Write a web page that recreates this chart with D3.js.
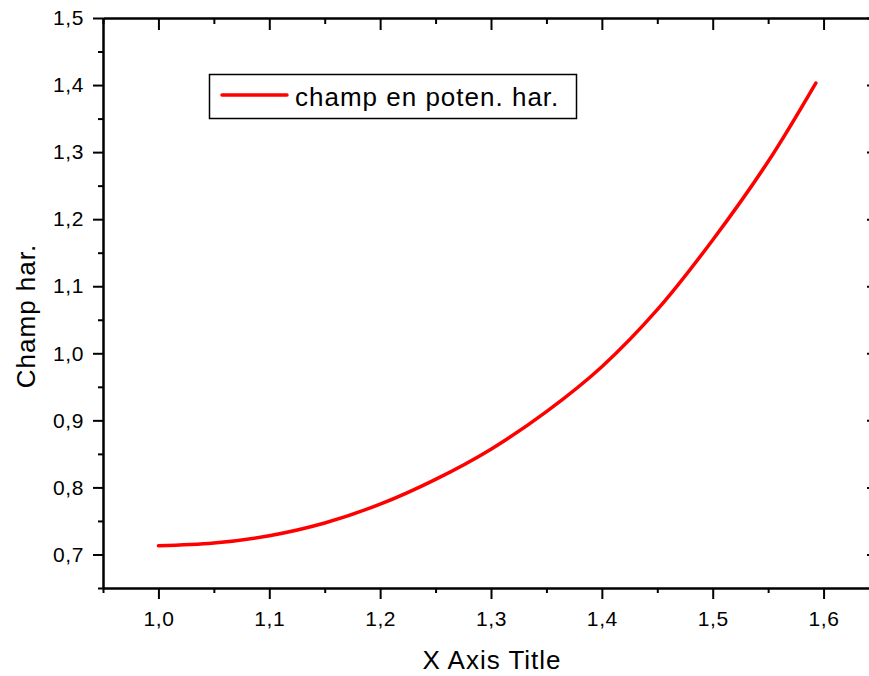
<!DOCTYPE html>
<html>
<head>
<meta charset="utf-8">
<script src="https://cdn.jsdelivr.net/npm/d3@7"></script>
<style>
  html, body { margin: 0; padding: 0; background: #fff; }
  svg { display: block; }
  text { font-family: "Liberation Sans", Arial, sans-serif; fill: #000; }
</style>
</head>
<body>
<svg id="chart" width="869" height="676"></svg>
<script>
// Series: harmonic potential field
const xValues = [1.00, 1.05, 1.10, 1.15, 1.20, 1.25, 1.30, 1.35, 1.40, 1.45, 1.50, 1.55, 1.593];
const yValues = [0.713, 0.717, 0.728, 0.747, 0.775, 0.812, 0.857, 0.913, 0.980, 1.065, 1.169, 1.286, 1.403];

// Axis ticks
const xMajorTicks = [1.0, 1.1, 1.2, 1.3, 1.4, 1.5, 1.6];
const xMinorTicks = [0.95, 1.05, 1.15, 1.25, 1.35, 1.45, 1.55, 1.65];
const yMajorTicks = [0.7, 0.8, 0.9, 1.0, 1.1, 1.2, 1.3, 1.4, 1.5];
const yMinorTicks = [0.65, 0.75, 0.85, 0.95, 1.05, 1.15, 1.25, 1.35, 1.45];

const seriesName = "champ en poten. har.";
const xTitle = "X Axis Title";
const yTitle = "Champ har.";

const svg = d3.select("#chart");
const plotLeft = 103, plotRight = 879, plotTop = 18, plotBottom = 588;

const x = d3.scaleLinear().domain([0.95, 1.65]).range([plotLeft, plotRight]);
const y = d3.scaleLinear().domain([0.65, 1.5]).range([plotBottom, plotTop]);

const fmt = v => d3.format(".1f")(v).replace(".", ",");

function styleAxis(g) {
  g.select(".domain").attr("stroke", "#000").attr("stroke-width", 2);
  g.selectAll(".tick line").attr("stroke", "#000").attr("stroke-width", 2);
  g.selectAll(".tick text")
    .attr("font-size", 21)
    .attr("letter-spacing", "0.6px")
    .attr("fill", "#000");
}

// Bottom axis: outward ticks with labels
svg.append("g").attr("transform", `translate(0,${plotBottom})`)
  .call(d3.axisBottom(x).tickValues(xMinorTicks).tickSize(5).tickFormat("").tickSizeOuter(0))
  .call(styleAxis);
svg.append("g").attr("transform", `translate(0,${plotBottom})`)
  .call(d3.axisBottom(x).tickValues(xMajorTicks).tickSize(11).tickPadding(12).tickFormat(fmt).tickSizeOuter(0))
  .call(styleAxis);

// Top axis: inward ticks, no labels
svg.append("g").attr("transform", `translate(0,${plotTop})`)
  .call(d3.axisBottom(x).tickValues(xMinorTicks).tickSize(6).tickFormat("").tickSizeOuter(0))
  .call(styleAxis);
svg.append("g").attr("transform", `translate(0,${plotTop})`)
  .call(d3.axisBottom(x).tickValues(xMajorTicks).tickSize(12).tickFormat("").tickSizeOuter(0))
  .call(styleAxis);

// Left axis: outward ticks with labels
svg.append("g").attr("transform", `translate(${plotLeft},0)`)
  .call(d3.axisLeft(y).tickValues(yMinorTicks).tickSize(5).tickFormat("").tickSizeOuter(0))
  .call(styleAxis);
svg.append("g").attr("transform", `translate(${plotLeft},0)`)
  .call(d3.axisLeft(y).tickValues(yMajorTicks).tickSize(10).tickPadding(9).tickFormat(fmt).tickSizeOuter(0))
  .call(styleAxis);

// Right axis: inward ticks, no labels
svg.append("g").attr("transform", `translate(${plotRight},0)`)
  .call(d3.axisLeft(y).tickValues(yMinorTicks).tickSize(6).tickFormat("").tickSizeOuter(0))
  .call(styleAxis);
svg.append("g").attr("transform", `translate(${plotRight},0)`)
  .call(d3.axisLeft(y).tickValues(yMajorTicks).tickSize(12).tickFormat("").tickSizeOuter(0))
  .call(styleAxis);

// Curve
const data = xValues.map((v, i) => ({ x: v, y: yValues[i] }));
const line = d3.line().x(d => x(d.x)).y(d => y(d.y)).curve(d3.curveCatmullRom.alpha(0.5));
svg.append("path")
  .datum(data)
  .attr("fill", "none")
  .attr("stroke", "#ff0000")
  .attr("stroke-width", 3.5)
  .attr("stroke-linecap", "round")
  .attr("d", line);

// Legend
const legend = svg.append("g");
legend.append("rect")
  .attr("x", 209.5).attr("y", 74.5).attr("width", 367).attr("height", 44)
  .attr("fill", "#fff").attr("stroke", "#000").attr("stroke-width", 1.5);
legend.append("line")
  .attr("x1", 222).attr("x2", 287).attr("y1", 95).attr("y2", 95)
  .attr("stroke", "#ff0000").attr("stroke-width", 3.5).attr("stroke-linecap", "round");
legend.append("text")
  .attr("x", 295).attr("y", 106)
  .attr("font-size", 26).attr("letter-spacing", "1px")
  .text(seriesName);

// Axis titles
svg.append("text")
  .attr("x", 492).attr("y", 669)
  .attr("text-anchor", "middle")
  .attr("font-size", 26).attr("letter-spacing", "1px")
  .text(xTitle);
svg.append("text")
  .attr("transform", "translate(35,316) rotate(-90)")
  .attr("text-anchor", "middle")
  .attr("font-size", 26).attr("letter-spacing", "1px")
  .text(yTitle);
</script>
</body>
</html>
